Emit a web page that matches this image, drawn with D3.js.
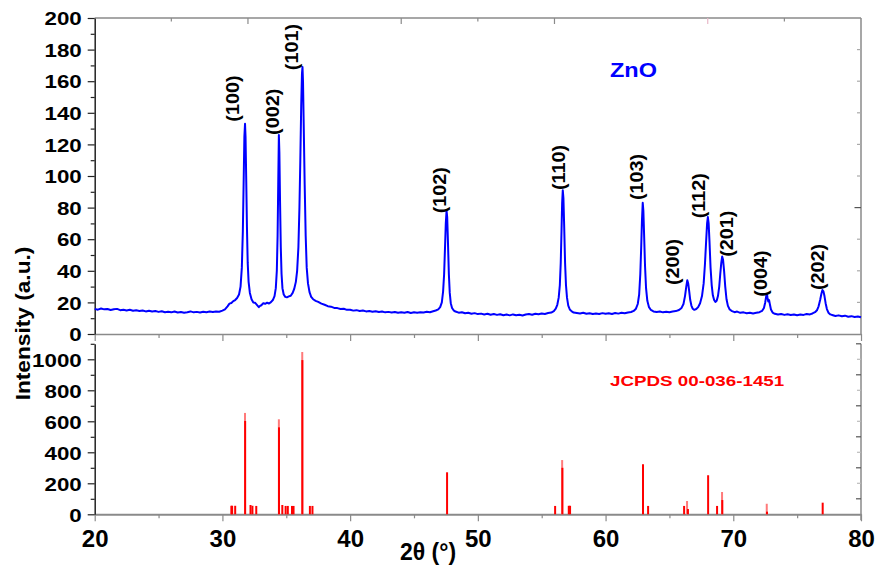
<!DOCTYPE html>
<html><head><meta charset="utf-8">
<script src="https://cdn.jsdelivr.net/npm/d3@7"></script>
<style>body{margin:0;background:#fff}svg{display:block}text{font-family:"Liberation Sans",Arial,sans-serif;font-weight:bold}</style>
</head><body>
<script>
// ---------- data ----------
const spectrum = [
[20.00,15.9],[20.25,15.4],[20.50,16.1],[20.75,15.6],[21.00,15.8],[21.25,15.2],[21.50,15.7],[21.75,15.9],[22.00,15.1],[22.25,15.4],
[22.50,14.9],[22.75,15.3],[23.00,14.7],[23.25,15.0],[23.50,14.6],[23.75,14.9],[24.00,14.3],[24.25,14.7],[24.50,14.2],[24.75,14.5],
[25.00,14.0],[25.25,14.4],[25.50,13.8],[25.75,14.1],[26.00,13.7],[26.25,14.2],[26.50,13.6],[26.75,13.9],[27.00,13.5],[27.25,13.8],
[27.50,14.3],[27.75,13.7],[28.00,14.0],[28.25,13.6],[28.50,14.1],[28.75,13.8],[29.00,14.2],[29.25,13.9],[29.50,14.3],[29.75,14.1],
[30.00,14.8],[30.20,15.6],[30.40,17.5],[30.55,19.2],[30.70,19.6],[30.85,20.8],[31.00,21.5],[31.15,22.8],[31.30,25],[31.42,30],
[31.52,42],[31.60,65],[31.67,100],[31.72,125],[31.77,133],[31.81,125],[31.86,100],[31.92,68],[31.98,45],[32.05,33],
[32.15,26],[32.28,22],[32.42,20],[32.55,19.8],[32.70,18.4],[32.85,17.0],[32.95,17.8],[33.05,18.2],[33.20,19.5],[33.35,19.1],
[33.50,19.8],[33.65,19.3],[33.80,20.2],[33.95,21.5],[34.08,24],[34.18,29],[34.26,40],[34.32,62],[34.37,95],[34.42,126],
[34.46,115],[34.51,85],[34.57,55],[34.63,38],[34.70,29],[34.80,25],[34.92,23.5],[35.05,23.2],[35.20,23.8],[35.35,24.2],
[35.50,26],[35.62,28.5],[35.75,33],[35.85,40],[35.95,55],[36.03,80],[36.10,110],[36.17,145],[36.23,165],[36.27,169],
[36.31,160],[36.37,130],[36.44,95],[36.52,62],[36.60,42],[36.70,32],[36.82,26.5],[36.95,23.5],[37.10,22],[37.30,21],
[37.50,20.3],[37.75,19.2],[38.00,18.5],[38.25,17.6],[38.50,17.3],[38.75,16.5],[39.00,16.4],[39.25,15.8],[39.50,16.0],[39.75,15.3],
[40.00,15.4],[40.25,14.8],[40.50,15.1],[40.75,14.6],[41.00,14.9],[41.25,14.3],[41.50,14.6],[41.75,14.1],[42.00,14.4],[42.25,13.9],
[42.50,14.2],[42.75,13.7],[43.00,14.0],[43.25,13.6],[43.50,13.9],[43.75,13.4],[44.00,13.8],[44.25,13.5],[44.50,13.9],[44.75,13.3],
[45.00,13.7],[45.25,13.4],[45.50,13.8],[45.75,13.6],[46.00,14.1],[46.25,13.8],[46.50,14.4],[46.70,14.9],[46.90,15.6],[47.05,17],
[47.18,20],[47.28,27],[47.36,38],[47.43,55],[47.49,70],[47.55,78],[47.60,74],[47.66,58],[47.73,38],[47.80,26],
[47.88,19.5],[47.98,16.5],[48.10,15],[48.25,14.2],[48.50,13.5],[48.75,13.8],[49.00,13.1],[49.25,13.4],[49.50,12.8],[49.75,13.2],
[50.00,12.6],[50.25,12.9],[50.50,12.4],[50.75,12.8],[51.00,12.2],[51.25,12.6],[51.50,12.1],[51.75,12.5],[52.00,11.9],[52.25,12.3],
[52.50,11.8],[52.75,12.4],[53.00,11.9],[53.25,12.2],[53.50,11.7],[53.75,12.3],[54.00,12.6],[54.25,12.2],[54.50,12.8],[54.75,12.5],
[55.00,13.0],[55.25,12.7],[55.50,13.3],[55.75,13.6],[55.95,14.5],[56.10,16],[56.22,18.5],[56.33,23],[56.42,31],[56.49,45],
[56.55,65],[56.60,83],[56.65,91],[56.70,86],[56.76,68],[56.83,45],[56.90,31],[56.98,23],[57.08,18],[57.20,15.5],
[57.35,14.3],[57.50,13.6],[57.75,13.3],[58.00,13.0],[58.25,13.4],[58.50,12.8],[58.75,13.1],[59.00,12.6],[59.25,13.0],[59.50,12.7],
[59.75,13.2],[60.00,12.8],[60.25,13.1],[60.50,12.7],[60.75,13.3],[61.00,12.9],[61.25,13.4],[61.50,13.1],[61.75,13.6],[62.00,13.9],
[62.20,14.6],[62.38,16],[62.52,19],[62.63,25],[62.72,38],[62.79,55],[62.85,72],[62.91,83],[62.96,78],[63.02,62],
[63.09,43],[63.17,29],[63.27,21],[63.40,17],[63.55,15.2],[63.75,14.3],[64.00,13.9],[64.25,14.2],[64.50,13.7],[64.75,14.1],
[65.00,13.8],[65.25,14.3],[65.50,14.5],[65.75,15.2],[65.95,16.5],[66.10,19],[66.22,24],[66.32,30],[66.40,34],[66.47,32],
[66.55,27],[66.63,21.5],[66.72,18],[66.82,16],[66.95,15.3],[67.10,15.8],[67.25,17],[67.40,19.5],[67.55,24],[67.68,32],
[67.78,44],[67.87,58],[67.95,70],[68.01,74],[68.07,70],[68.14,58],[68.22,42],[68.31,31],[68.40,24.5],[68.50,21.5],
[68.60,20.3],[68.70,21],[68.80,24],[68.90,30],[68.98,38],[69.06,45],[69.13,49],[69.20,47],[69.28,40],[69.37,30],
[69.47,22],[69.58,17.8],[69.72,15.5],[69.90,14.5],[70.10,13.8],[70.30,14.2],[70.55,13.4],[70.80,13.7],[71.05,13.1],[71.30,13.5],
[71.55,13.0],[71.80,13.4],[72.05,13.8],[72.25,14.6],[72.40,16.5],[72.50,20],[72.58,24],[72.63,25.5],[72.68,23],[72.74,20.5],
[72.80,21.5],[72.86,19],[72.95,15.5],[73.08,13.6],[73.25,12.8],[73.50,12.3],[73.75,12.7],[74.00,12.1],[74.25,12.5],[74.50,12.0],
[74.75,12.4],[75.00,11.9],[75.25,12.3],[75.50,12.1],[75.75,12.6],[76.00,12.4],[76.20,13.0],[76.40,13.8],[76.55,15],[76.68,17.5],
[76.80,21.5],[76.90,25.5],[76.98,27.8],[77.06,27],[77.14,24],[77.23,19.5],[77.33,15.8],[77.45,13.5],[77.60,12.4],[77.80,11.9],
[78.00,11.4],[78.25,11.8],[78.50,11.2],[78.75,11.6],[79.00,10.9],[79.25,11.3],[79.50,10.8],[79.75,11.1],[80.00,10.6]
];

// Reference pattern (JCPDS 00-036-1451): main sticks and lighter overlapping sticks
const stickPos = [30.70,30.76,31.00,31.78,32.20,32.35,32.65,34.43,34.69,34.95,35.12,35.45,35.57,36.26,36.85,37.05,47.59,56.05,56.62,57.12,57.22,62.93,63.33,66.15,66.45,68.03,68.73,69.14,72.64,77.00];
const stickInt = [55,55,55,602,60,55,54,561,60,54,54,54,54,995,54,54,271,54,300,55,55,323,54,54,34,252,54,92,17,75];
const lightPos = [31.77,34.42,36.25,56.60,66.38,69.12,72.62];
const lightInt = [654,613,1047,350,86,144,68];

// Miller index labels: [label, 2θ anchor, intensity anchor]
const hklLabels = ["(100)","(002)","(101)","(102)","(110)","(103)","(200)","(112)","(201)","(004)","(202)"];
const hklX = [30.85,33.92,35.42,47.01,56.35,62.48,65.28,67.31,69.50,72.17,76.59];
const hklY = [134.4,126,167,76.4,91.1,84.8,31,73.2,48.9,23.6,27.8];

const xTicks = [20,30,40,50,60,70,80];
const xMinor = [25,35,45,55,65,75];
const topTicks = [0,20,40,60,80,100,120,140,160,180,200];
const topMinor = [10,30,50,70,90,110,130,150,170,190];
const botTicks = [0,200,400,600,800,1000];
const botMinor = [100,300,500,700,900,1100];
const upperTicks = [26,32,44,50,56,68,74];
const upperLong = [32,44,56,68];

// ---------- layout ----------
const W = 876, H = 569;
const X0 = 94.7, X1 = 861;
const T0 = 18, T1 = 334;       // top panel
const B0 = 343.8, B1 = 514.3;  // bottom panel

const x = d3.scaleLinear().domain([20,80]).range([X0,X1]);
const yT = d3.scaleLinear().domain([0,200]).range([T1,T0]);
const yB = d3.scaleLinear().domain([0,1100]).range([B1,B0]);

const svg = d3.select("body").append("svg").attr("width",W).attr("height",H);
svg.append("rect").attr("width",W).attr("height",H).attr("fill","#fff");

const dark = "#222", gray = "#8a8a8a";

function styleAxis(g, col, w){
  g.select(".domain").attr("stroke",col).attr("stroke-width",w);
  g.selectAll(".tick line").attr("stroke",col).attr("stroke-width",1.2);
}

// top frame lines (top & right)
svg.append("line").attr("x1",X0).attr("x2",X1).attr("y1",T0).attr("y2",T0).attr("stroke",gray).attr("stroke-width",1.3);
svg.append("line").attr("x1",X1).attr("x2",X1).attr("y1",T0).attr("y2",T1).attr("stroke",gray).attr("stroke-width",1.5);
svg.append("line").attr("x1",X1).attr("x2",X1).attr("y1",B0).attr("y2",B1+6).attr("stroke",gray).attr("stroke-width",1.5);

// upper axis ticks (inward)
svg.append("g").selectAll("line").data(upperTicks).join("line")
  .attr("x1",d=>x(d)).attr("x2",d=>x(d)).attr("y1",T0).attr("y2",d=>T0+(upperLong.includes(d)?6:3.5))
  .attr("stroke",d=>d===68?"#e8b8c8":gray).attr("stroke-width",1.2);

// right axis ticks top panel (inward)
svg.append("g").selectAll("line").data(topTicks.slice(1,-1)).join("line")
  .attr("x1",X1).attr("x2",d=>X1-(d===80?6.5:4)).attr("y1",d=>yT(d)).attr("y2",d=>yT(d))
  .attr("stroke",d=>d===80?"#555":"#aaa").attr("stroke-width",1.2);
// right axis ticks bottom panel
svg.append("g").selectAll("line").data([100,200,300,400,500,600,700,800,900,1000,1100]).join("line")
  .attr("x1",X1).attr("x2",d=>X1-(d%200===100?5:4)).attr("y1",d=>yB(d)).attr("y2",d=>yB(d))
  .attr("stroke",d=>d%200===100?"#555":"#bbb").attr("stroke-width",1.2);

// top panel bottom axis (no labels)
const gTB = svg.append("g").attr("transform",`translate(0,${T1})`)
  .call(d3.axisBottom(x).tickValues(xTicks).tickSize(7).tickSizeOuter(0).tickFormat(""));
styleAxis(gTB, gray, 1.5);
const gTBm = svg.append("g").attr("transform",`translate(0,${T1})`)
  .call(d3.axisBottom(x).tickValues(xMinor).tickSize(4).tickFormat(""));
gTBm.select(".domain").remove(); styleAxis(gTBm, gray, 1);

// bottom panel x axis
const gBB = svg.append("g").attr("transform",`translate(0,${B1})`)
  .call(d3.axisBottom(x).tickValues(xTicks).tickSize(7).tickSizeOuter(0).tickFormat(d3.format("d")));
styleAxis(gBB, gray, 2);
gBB.selectAll(".tick text").attr("y",32.4).attr("dy",0).attr("fill","#000")
  .style("font-size","24px").style("font-family","'Liberation Sans',Arial,sans-serif").style("font-weight","bold");
const gBBm = svg.append("g").attr("transform",`translate(0,${B1})`)
  .call(d3.axisBottom(x).tickValues(xMinor).tickSize(4).tickFormat(""));
gBBm.select(".domain").remove(); styleAxis(gBBm, gray, 1);

// left axes
function leftAxis(scale, major, minor){
  const g = svg.append("g").attr("transform",`translate(${X0},0)`)
    .call(d3.axisLeft(scale).tickValues(major).tickSize(7).tickSizeOuter(0).tickFormat(d3.format("d")));
  styleAxis(g, dark, 1.5);
  g.selectAll(".tick text").attr("x",-10.8).attr("dy","0.36em").attr("fill","#000")
    .attr("transform","scale(1.2,1)")
    .style("font-size","18.6px").style("font-family","'Liberation Sans',Arial,sans-serif").style("font-weight","bold");
  const gm = svg.append("g").attr("transform",`translate(${X0},0)`)
    .call(d3.axisLeft(scale).tickValues(minor).tickSize(4).tickFormat(""));
  gm.select(".domain").remove(); styleAxis(gm, dark, 1);
}
leftAxis(yT, topTicks, topMinor);
leftAxis(yB, botTicks, botMinor);

// spectrum
const line = d3.line().x(d=>x(d[0])).y(d=>yT(d[1]));
svg.append("path").datum(spectrum).attr("d",line).attr("fill","none")
  .attr("stroke","#0000ff").attr("stroke-width",2).attr("stroke-linejoin","round");

// sticks
svg.append("g").selectAll("line").data(lightPos.map((p,i)=>[p,lightInt[i]])).join("line")
  .attr("x1",d=>x(d[0])).attr("x2",d=>x(d[0])).attr("y1",yB(0)).attr("y2",d=>yB(d[1]))
  .attr("stroke","#ff7a7a").attr("stroke-width",2);
svg.append("g").selectAll("line").data(stickPos.map((p,i)=>[p,stickInt[i]])).join("line")
  .attr("x1",d=>x(d[0])).attr("x2",d=>x(d[0])).attr("y1",yB(0)).attr("y2",d=>yB(d[1]))
  .attr("stroke","#ff0000").attr("stroke-width",2);

// hkl labels
svg.append("g").selectAll("text").data(hklLabels).join("text")
  .attr("transform",(d,i)=>`translate(${x(hklX[i])},${yT(hklY[i])}) rotate(-90) scale(1.1,1)`)
  .attr("text-anchor","start").attr("dominant-baseline","central")
  .style("font-size","18px").attr("fill","#000").text(d=>d);

// annotations
svg.append("text").attr("transform","translate(610,77) scale(1.12,1)")
  .style("font-size","21px").attr("fill","#0000ff").text("ZnO");
svg.append("text").attr("transform","translate(610,386) scale(1.22,1)")
  .style("font-size","15.4px").attr("fill","#ff0000").text("JCPDS 00-036-1451");

// axis titles
svg.append("text").attr("transform","translate(400,560)")
  .style("font-size","23px").attr("fill","#000").text("2θ (°)");
svg.append("text").attr("transform","translate(22.5,323.5) rotate(-90) scale(1.08,1)")
  .attr("text-anchor","middle").attr("dominant-baseline","central")
  .style("font-size","21px").attr("fill","#000").text("Intensity (a.u.)");
</script>
</body></html>
